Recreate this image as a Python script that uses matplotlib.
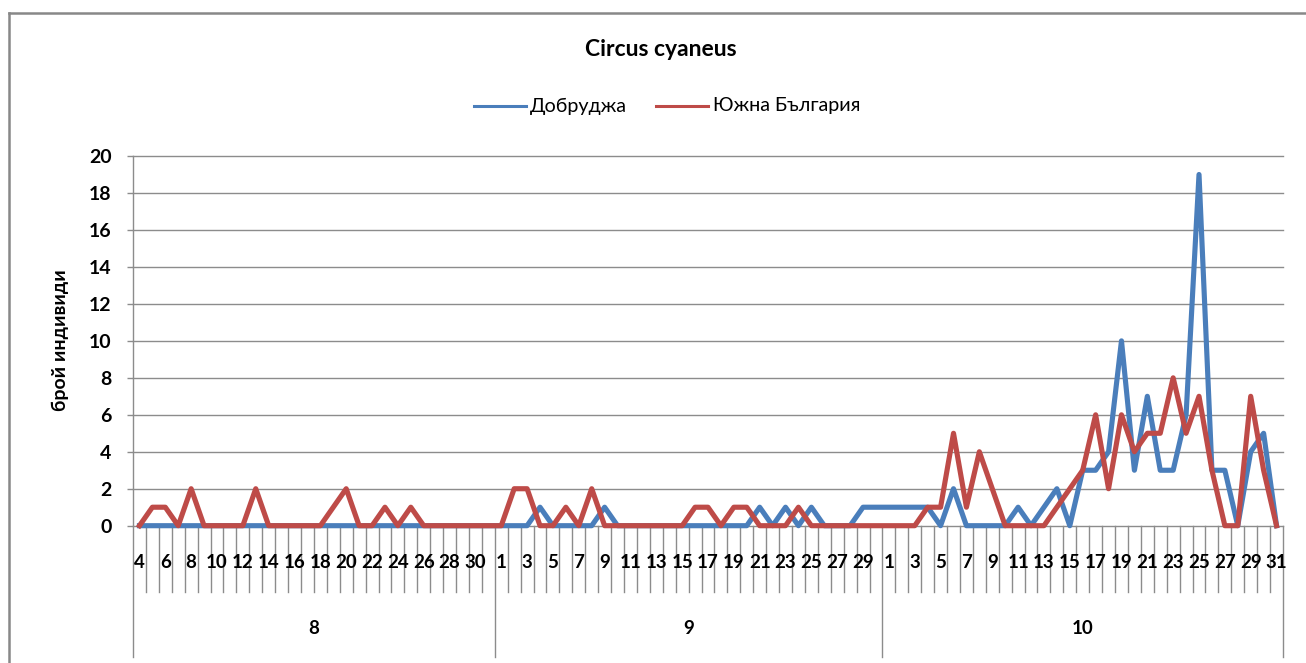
import matplotlib
matplotlib.use('Agg')
import matplotlib.pyplot as plt
import matplotlib.transforms as mtransforms
from matplotlib.lines import Line2D

# ---------------- data ----------------
months = ['8', '9', '10']
days_aug = [4, 5, 6, 7, 8, 9, 10, 11, 12, 13, 14, 15, 16, 17, 18, 19, 20,
            21, 22, 23, 24, 25, 26, 27, 28, 29, 30, 31]
days_sep = [1, 2, 3, 4, 5, 6, 7, 8, 9, 10, 11, 12, 13, 14, 15, 16, 17, 18,
            19, 20, 21, 22, 23, 24, 25, 26, 27, 28, 29, 30]
days_oct = [1, 2, 3, 4, 5, 6, 7, 8, 9, 10, 11, 12, 13, 14, 15, 16, 17, 18,
            19, 20, 21, 22, 23, 24, 25, 26, 27, 28, 29, 30, 31]

dobrudzha_aug = [0, 0, 0, 0, 0, 0, 0, 0, 0, 0, 0, 0, 0, 0, 0, 0, 0, 0, 0, 0,
                 0, 0, 0, 0, 0, 0, 0, 0]
dobrudzha_sep = [0, 0, 0, 1, 0, 0, 0, 0, 1, 0, 0, 0, 0, 0, 0, 0, 0, 0, 0, 0,
                 1, 0, 1, 0, 1, 0, 0, 0, 1, 1]
dobrudzha_oct = [1, 1, 1, 1, 0, 2, 0, 0, 0, 0, 1, 0, 1, 2, 0, 3, 3, 4, 10, 3,
                 7, 3, 3, 6, 19, 3, 3, 0, 4, 5, 0]

south_aug = [0, 1, 1, 0, 2, 0, 0, 0, 0, 2, 0, 0, 0, 0, 0, 1, 2, 0, 0, 1,
             0, 1, 0, 0, 0, 0, 0, 0]
south_sep = [0, 2, 2, 0, 0, 1, 0, 2, 0, 0, 0, 0, 0, 0, 0, 1, 1, 0, 1, 1,
             0, 0, 0, 1, 0, 0, 0, 0, 0, 0]
south_oct = [0, 0, 0, 1, 1, 5, 1, 4, 2, 0, 0, 0, 0, 1, 2, 3, 6, 2, 6, 4,
             5, 5, 8, 5, 7, 3, 0, 0, 7, 3, 0]

series_names = ['Добруджа', 'Южна България']
title = 'Circus cyaneus'
ylabel = 'брой индивиди'
yticks = [0, 2, 4, 6, 8, 10, 12, 14, 16, 18, 20]

# ---------------- layout ----------------
W, H = 1306, 663
BLUE = '#4A7EBB'
RED = '#BE4B48'
GRID = '#8C8C8C'
FONT = ['Lato', 'Noto Sans', 'DejaVu Sans']
plt.rcParams['font.family'] = FONT

day_groups = [days_aug, days_sep, days_oct]
blue = dobrudzha_aug + dobrudzha_sep + dobrudzha_oct
red = south_aug + south_sep + south_oct
day_labels = days_aug + days_sep + days_oct
n = len(day_labels)
x = list(range(n))

fig = plt.figure(figsize=(W / 100, H / 100), dpi=100)
left, right, top, bottom = 133, 1283, 156, 525.7
ax = fig.add_axes([left / W, 1 - bottom / H, (right - left) / W, (bottom - top) / H])

ax.plot(x, blue, color=BLUE, lw=3.7, solid_joinstyle='round', zorder=3, clip_on=False)
ax.plot(x, red, color=RED, lw=3.7, solid_joinstyle='round', zorder=4, clip_on=False)

ax.set_xlim(-0.5, n - 0.5)
ax.set_ylim(0, 20)
ax.set_yticks(yticks)
ax.set_yticklabels([str(v) for v in yticks], fontsize=14, fontweight='bold')
ax.tick_params(axis='y', direction='out', length=4.5, width=1, color=GRID, pad=11)
ax.set_xticks([])
ax.yaxis.grid(True, color=GRID, lw=1)
for gl in ax.get_ygridlines():
    gl.set_clip_on(False)
ax.set_axisbelow(True)
for s in ['top', 'right', 'bottom']:
    ax.spines[s].set_visible(False)
ax.spines['left'].set_color(GRID)
ax.spines['left'].set_linewidth(1)

# category axis (two levels)
trans = mtransforms.blended_transform_factory(ax.transData, ax.transAxes)
axh = bottom - top
short_end = -(592 - bottom) / axh
long_end = -(657 - bottom) / axh
label_y = -(563 - bottom) / axh
month_y = -(628 - bottom) / axh

month_edges = [-0.5]
for g in day_groups:
    month_edges.append(month_edges[-1] + len(g))

for i in range(n + 1):
    b = i - 0.5
    end = long_end if b in month_edges else short_end
    ax.plot([b, b], [0, end], transform=trans, clip_on=False, color=GRID, lw=1)

for i, d in enumerate(day_labels):
    if i % 2 == 0:
        ax.text(i, label_y, str(d), transform=trans, ha='center', va='center',
                fontsize=13.5, fontweight='bold', color='black')

for k, m in enumerate(months):
    cx = (month_edges[k] + month_edges[k + 1]) / 2
    ax.text(cx, month_y, m, transform=trans, ha='center', va='center',
            fontsize=13.5, fontweight='bold', color='black')

# title, legend, y label
fig.text(661 / W, 1 - 50 / H, title, ha='center', va='center', fontsize=16.5,
         fontweight='bold')
ly = 1 - 106 / H
fig.add_artist(Line2D([474 / W, 526 / W], [ly, ly], color=BLUE, lw=2.2))
fig.text(530 / W, ly, series_names[0], ha='left', va='center', fontsize=14.2)
fig.add_artist(Line2D([656 / W, 708 / W], [ly, ly], color=RED, lw=2.2))
fig.text(713 / W, ly, series_names[1], ha='left', va='center', fontsize=14.2)

fig.text(60 / W, 1 - 340 / H, ylabel, rotation=90, ha='center', va='center',
         fontsize=14, fontweight='bold')

# chart-area frame (partly cropped)
fy = 1 - 13 / H
fx = 9 / W
fig.add_artist(Line2D([fx, 1.0], [fy, fy], color='#888888', lw=1.8))
fig.add_artist(Line2D([fx, fx], [0.0, fy], color='#888888', lw=1.8))

fig.savefig('out.png', dpi=100)
